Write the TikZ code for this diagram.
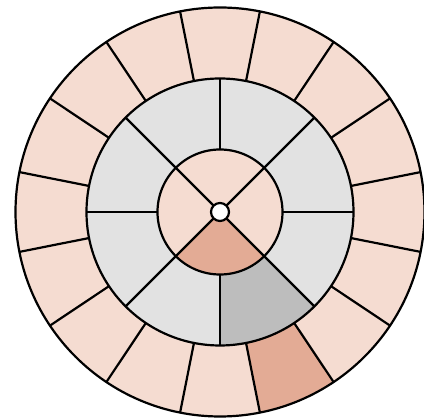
\documentclass[tikz,border=0pt]{standalone}
\usepackage{xcolor}
\usepackage{tikz}
\usetikzlibrary{calc}

\definecolor{peach}{HTML}{F5DCD1}
\definecolor{salmon}{HTML}{E3AB95}
\definecolor{lightgray}{HTML}{E2E2E2}
\definecolor{midgray}{HTML}{BDBDBD}

\begin{document}
\begin{tikzpicture}[
  ring/.style={draw=black, line width=1.25pt},
  spoke/.style={black, line width=1.25pt},
  hl/.style={fill=salmon}
]
\useasboundingbox (-4.40,-4.14) rectangle (4.08,4.24);
\def\Rout{4.09}
\def\Rmid{2.67}
\def\Rin{1.25}
\def\Rhole{0.18}

% outer ring
\fill[peach] (0,0) circle (\Rout);
\fill[hl] (281.25:\Rmid) -- (281.25:\Rout) arc (281.25:303.75:\Rout) -- (303.75:\Rmid) arc (303.75:281.25:\Rmid) -- cycle;

% middle ring
\fill[lightgray] (0,0) circle (\Rmid);
\fill[midgray] (270:\Rin) -- (270:\Rmid) arc (270:315:\Rmid) -- (315:\Rin) arc (315:270:\Rin) -- cycle;

% inner disc
\fill[peach] (0,0) circle (\Rin);
\fill[hl] (0,0) -- (225:\Rin) arc (225:315:\Rin) -- cycle;

% dividers
\foreach \a in {11.25,33.75,...,360}
  \draw[spoke] (\a:\Rmid) -- (\a:\Rout);
\foreach \a in {0,90,180,270}
  \draw[spoke] (\a:\Rin) -- (\a:\Rmid);
\foreach \a in {45,135,225,315}
  \draw[spoke] (0,0) -- (\a:\Rmid);

\draw[ring] (0,0) circle (\Rout);
\draw[ring] (0,0) circle (\Rmid);
\draw[ring] (0,0) circle (\Rin);
\draw[ring, fill=white] (0,0) circle (\Rhole);
\end{tikzpicture}
\end{document}
